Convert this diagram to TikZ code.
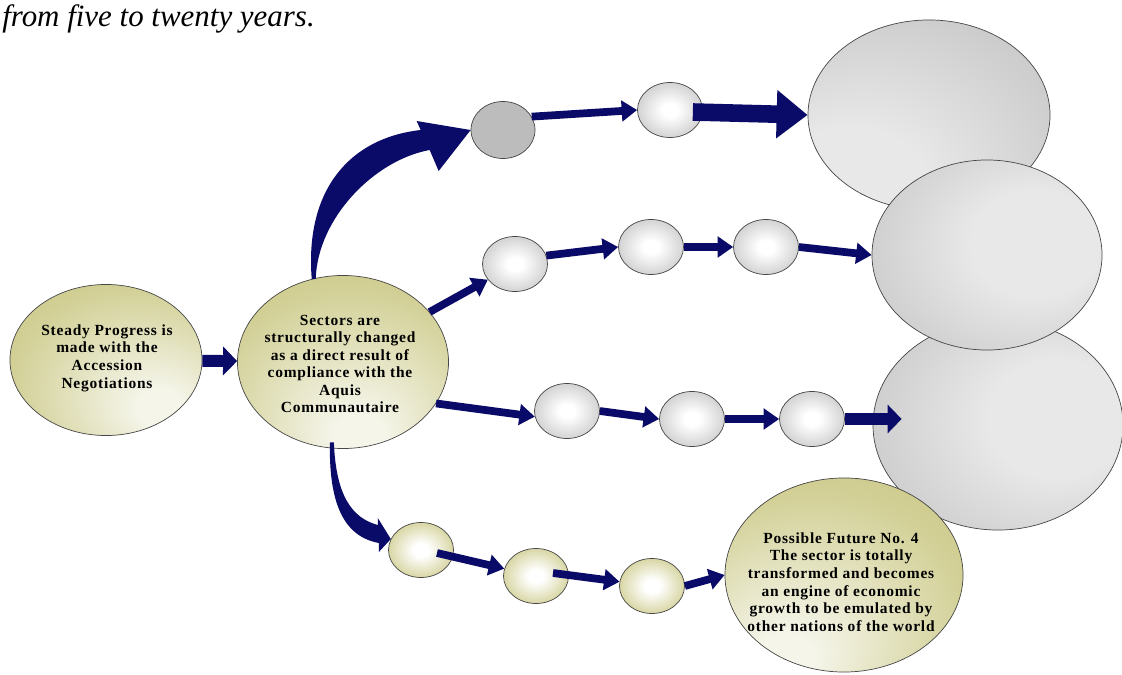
\documentclass[tikz,border=0pt]{standalone}
\usepackage{fontspec}
\setmainfont{Liberation Serif}
\usetikzlibrary{arrows.meta,shapes.geometric,calc}

\definecolor{navy}{RGB}{10,10,104}
\definecolor{khaki}{RGB}{186,183,104}
\definecolor{khakimid}{RGB}{210,208,150}
\definecolor{khakilight}{RGB}{245,245,234}
\definecolor{ballgray}{RGB}{170,170,170}
\definecolor{coingray}{RGB}{188,188,188}
\definecolor{biggray}{RGB}{184,184,184}
\definecolor{bigmid}{RGB}{204,204,204}
\definecolor{biglight}{RGB}{232,232,232}
\definecolor{edgegray}{RGB}{70,70,70}

\pgfdeclareradialshading{khakiSE}{\pgfpoint{16bp}{-18bp}}{color(0bp)=(khakilight); color(6bp)=(khakilight); color(32bp)=(khakimid); color(58bp)=(khaki)}
\pgfdeclareradialshading{khakiS}{\pgfpoint{4bp}{-24bp}}{color(0bp)=(khakilight); color(6bp)=(khakilight); color(32bp)=(khakimid); color(58bp)=(khaki)}
\pgfdeclareradialshading{khakiSW}{\pgfpoint{-14bp}{-24bp}}{color(0bp)=(khakilight); color(6bp)=(khakilight); color(32bp)=(khakimid); color(58bp)=(khaki)}
\pgfdeclareradialshading{ballkhaki}{\pgfpoint{0bp}{0bp}}{color(0bp)=(white); color(6bp)=(white); color(28bp)=(khakimid); color(50bp)=(khaki)}
\pgfdeclareradialshading{ballshade}{\pgfpoint{0bp}{0bp}}{color(0bp)=(white); color(6bp)=(white); color(28bp)=(bigmid); color(50bp)=(ballgray)}
\pgfdeclareradialshading{bigA}{\pgfpoint{-22bp}{-26bp}}{color(0bp)=(biglight); color(16bp)=(biglight); color(38bp)=(bigmid); color(62bp)=(biggray)}
\pgfdeclareradialshading{bigB}{\pgfpoint{14bp}{4bp}}{color(0bp)=(biglight); color(14bp)=(biglight); color(34bp)=(bigmid); color(56bp)=(biggray)}
\pgfdeclareradialshading{bigC}{\pgfpoint{16bp}{2bp}}{color(0bp)=(biglight); color(14bp)=(biglight); color(34bp)=(bigmid); color(56bp)=(biggray)}

\begin{document}
\begin{tikzpicture}[x=0.025cm,y=-0.025cm,line join=round,
    font=\fontsize{11}{12.5}\selectfont\bfseries\addfontfeatures{LetterSpace=5},
    blob/.style={ellipse,draw=edgegray,line width=0.5pt,inner sep=0pt},
    ball/.style={blob,minimum width=1.625cm,minimum height=1.375cm},
    lbl/.style={align=center,inner sep=0pt,text=black},
    flow/.style={draw=navy,line width=5.5pt,-{Triangle[length=11pt,width=14.5pt]}},
    thickflow/.style={draw=navy,line width=8.5pt,-{Triangle[length=10pt,width=20pt]}},
    bigflow/.style={draw=navy,line width=12.5pt,-{Triangle[length=22pt,width=33pt]}}]
  \useasboundingbox (0,0) rectangle (1122,675);

  \node[anchor=base west,inner sep=0pt,font=\fontsize{22}{26}\selectfont\itshape] (intro) at (2,27) {from five to twenty years.};

  \node[blob,shading=khakiSE,minimum width=4.8cm,minimum height=3.775cm] (steady) at (106,360) {};
  \node[lbl] (steadytxt) at (107,358) {Steady Progress is\\made with the\\Accession\\Negotiations};
  \node[blob,shading=khakiS,minimum width=5.275cm,minimum height=4.325cm] (sectors) at (343,362) {};
  \node[lbl] (sectorstxt) at (340,364) {Sectors are\\structurally changed\\as a direct result of\\compliance with the\\Aquis\\Communautaire};

  \node[blob,fill=coingray,minimum width=1.6cm,minimum height=1.425cm] (up1) at (503,130) {};
  \node[ball,shading=ballshade] (up2) at (670,110) {};
  \node[ball,shading=ballshade] (hi1) at (515,264) {};
  \node[ball,shading=ballshade] (hi2) at (651,247) {};
  \node[ball,shading=ballshade] (hi3) at (766,247) {};
  \node[ball,shading=ballshade] (lo1) at (567,411) {};
  \node[ball,shading=ballshade] (lo2) at (692,419) {};
  \node[ball,shading=ballshade] (lo3) at (812,419) {};
  \node[ball,shading=ballkhaki] (dn1) at (421,550) {};
  \node[ball,shading=ballkhaki] (dn2) at (536,576) {};
  \node[ball,shading=ballkhaki] (dn3) at (652,586) {};

  \node[blob,shading=bigA,minimum width=6.05cm,minimum height=4.75cm] (fut1) at (929,115) {};
  \node[blob,shading=bigC,minimum width=6.25cm,minimum height=5.25cm] (fut3) at (998,425) {};
  \node[blob,shading=bigB,minimum width=5.75cm,minimum height=4.75cm] (fut2) at (987,255) {};
  \node[blob,shading=khakiSW,minimum width=5.95cm,minimum height=4.85cm] (fut4) at (844,575) {};
  \node[lbl] (fut4txt) at (841,582) {Possible Future No. 4\\The sector is totally\\transformed and becomes\\an engine of economic\\growth to be emulated by\\other nations of the world};

  \draw[thickflow] (steady) -- (sectors);

  \path (sectors.110) coordinate (rise0) (up1.west) coordinate (rise1);
  \fill[navy] ($(rise0)+(-1,0)$) .. controls ($(rise0)+(-8,-89)$) and ($(rise1)+(-121,8)$) .. ($(rise1)+(-50,0)$)
    -- ($(rise1)+(-54,-9)$) -- (rise1) -- ($(rise1)+(-32,41)$) -- ($(rise1)+(-41,20)$)
    .. controls ($(rise1)+(-96,30)$) and ($(rise0)+(5,-61)$) .. ($(rise0)+(3,0)$) -- cycle;
  \draw[flow] (up1.25) -- (up2.west);
  \draw[bigflow] ($(up2.east)+(-10,2)$) -- (fut1.west);

  \draw[flow] (sectors.30) -- (hi1.210);
  \draw[flow] (hi1.15) -- (hi2.west);
  \draw[flow] (hi2.east) -- (hi3.west);
  \draw[flow] (hi3.east) -- (fut2.west);

  \draw[flow] (sectors.-24) -- (lo1.190);
  \draw[flow] (lo1.east) -- (lo2.west);
  \draw[flow] (lo2.east) -- (lo3.west);
  \draw[thickflow] (lo3.east) -- ($(fut3.west)+(29,-6)$);

  \path (sectors.262) coordinate (drop0) (dn1.160) coordinate (drop1);
  \fill[navy] ($(drop0)+(-1,-6)$) .. controls ($(drop0)+(-2,52)$) and ($(drop1)+(-49,-3)$) .. ($(drop1)+(-12,4)$)
    -- ($(drop1)+(-12,13)$) -- (drop1) -- ($(drop1)+(-13,-21)$) -- ($(drop1)+(-13,-14)$)
    .. controls ($(drop1)+(-39,-21)$) and ($(drop0)+(5,47)$) .. ($(drop0)+(3,-6)$) -- cycle;
  \draw[flow] ($(dn1.center)+(16,3)$) -- (dn2);
  \draw[flow] ($(dn2.center)+(17,-3)$) -- (dn3);
  \draw[flow] (dn3.east) -- (fut4.west);
\end{tikzpicture}
\end{document}
